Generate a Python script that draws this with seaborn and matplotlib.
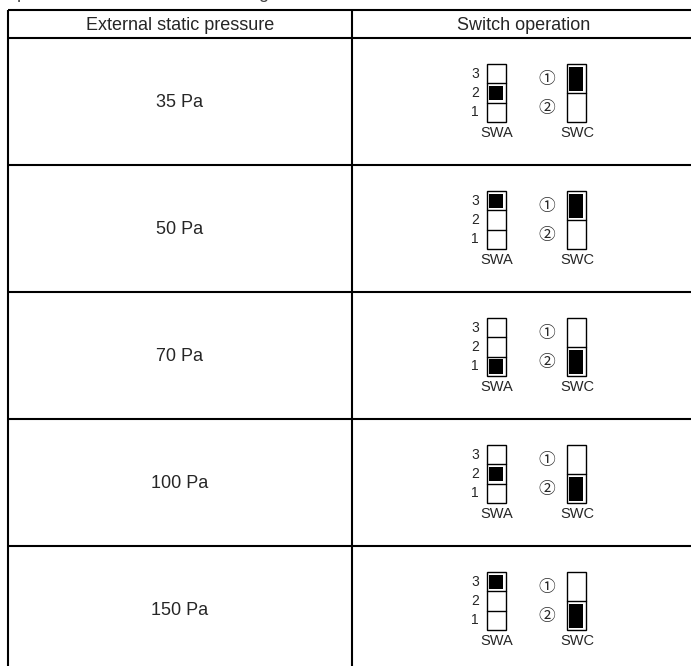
import matplotlib
matplotlib.use("Agg")
import matplotlib.pyplot as plt
from matplotlib.patches import Rectangle
import seaborn as sns

# table content
header = ["External static pressure", "Switch operation"]
pressures = ["35 Pa", "50 Pa", "70 Pa", "100 Pa", "150 Pa"]
swa_on = [2, 3, 1, 2, 3]      # SWA position set (3 top, 1 bottom)
swc_on = [1, 1, 2, 2, 2]      # SWC position set (1 top, 2 bottom)
swa_labels = ["3", "2", "1"]
swc_labels = ["\u2460", "\u2461"]

sns.set_theme(style="white")
plt.rcParams['font.family'] = ['Liberation Sans', 'Noto Sans CJK JP', 'DejaVu Sans']

W, H = 691, 666
fig = plt.figure(figsize=(W / 100, H / 100), dpi=100)
ax = fig.add_axes([0, 0, 1, 1])
ax.set_xlim(0, W)
ax.set_ylim(H, 0)
ax.axis('off')

lw = 1.5
x_left, x_mid, x_right = 8, 352, 696
y_top, y_head = 10, 38
row_h = 127
big = 13

# line of text above the table, cut off by the image edge (only descenders show)
ax.text(17, -1.5, "p", fontsize=big, va='baseline', ha='left', color='#444444')
ax.text(258, -1.5, "g", fontsize=big, va='baseline', ha='left', color='#444444')

# grid lines
n = len(pressures)
y_bottom = y_head + row_h * n
ax.plot([x_left, x_right], [y_top, y_top], color='black', lw=lw, solid_capstyle='butt')
for i in range(n):
    y = y_head + row_h * i
    ax.plot([x_left, x_right], [y, y], color='black', lw=lw, solid_capstyle='butt')
for x in (x_left, x_mid, x_right):
    ax.plot([x, x], [y_top, y_bottom], color='black', lw=lw, solid_capstyle='butt')

# header
ax.text((x_left + x_mid) / 2, (y_top + y_head) / 2 + 1, header[0], fontsize=big,
        ha='center', va='center')
ax.text((x_mid + x_right) / 2, (y_top + y_head) / 2 + 1, header[1], fontsize=big,
        ha='center', va='center')

sw_lw = 1.0
inset = 2.5
for i, p in enumerate(pressures):
    r = y_head + row_h * i
    ax.text((x_left + x_mid) / 2, r + row_h / 2 + 1, p, fontsize=big,
            ha='center', va='center')

    # SWA: three positions
    ax0, aw = 487, 19
    top, bot = r + 26, r + 84
    ch = (bot - top) / 3
    ax.add_patch(Rectangle((ax0, top), aw, bot - top, fill=False, ec='black', lw=sw_lw))
    for k in range(1, 3):
        ax.plot([ax0, ax0 + aw], [top + ch * k, top + ch * k], color='black', lw=sw_lw)
    for k, lab in enumerate(swa_labels):
        ax.text(479, top + ch * (k + 0.5), lab, fontsize=10, ha='right', va='center')
    k_on = swa_labels.index(str(swa_on[i]))
    ax.add_patch(Rectangle((ax0 + inset, top + ch * k_on + inset), aw - 2 * inset,
                           ch - 2 * inset, color='black', lw=0))
    ax.text(ax0 + aw / 2 + 0.5, r + 95, "SWA", fontsize=10.5, ha='center', va='center')

    # SWC: two positions
    cx0, cw = 567, 19
    chc = (bot - top) / 2
    ax.add_patch(Rectangle((cx0, top), cw, bot - top, fill=False, ec='black', lw=sw_lw))
    ax.plot([cx0, cx0 + cw], [top + chc, top + chc], color='black', lw=sw_lw)
    for k, lab in enumerate(swc_labels):
        ax.text(547, top + chc * (k + 0.5) + 1, lab, fontsize=12, ha='center', va='center')
    k_on = swc_on[i] - 1
    ax.add_patch(Rectangle((cx0 + inset, top + chc * k_on + inset), cw - 2 * inset,
                           chc - 2 * inset, color='black', lw=0))
    ax.text(cx0 + cw / 2 + 0.5, r + 95, "SWC", fontsize=10.5, ha='center', va='center')

fig.savefig("out.png", dpi=100, facecolor='white')
